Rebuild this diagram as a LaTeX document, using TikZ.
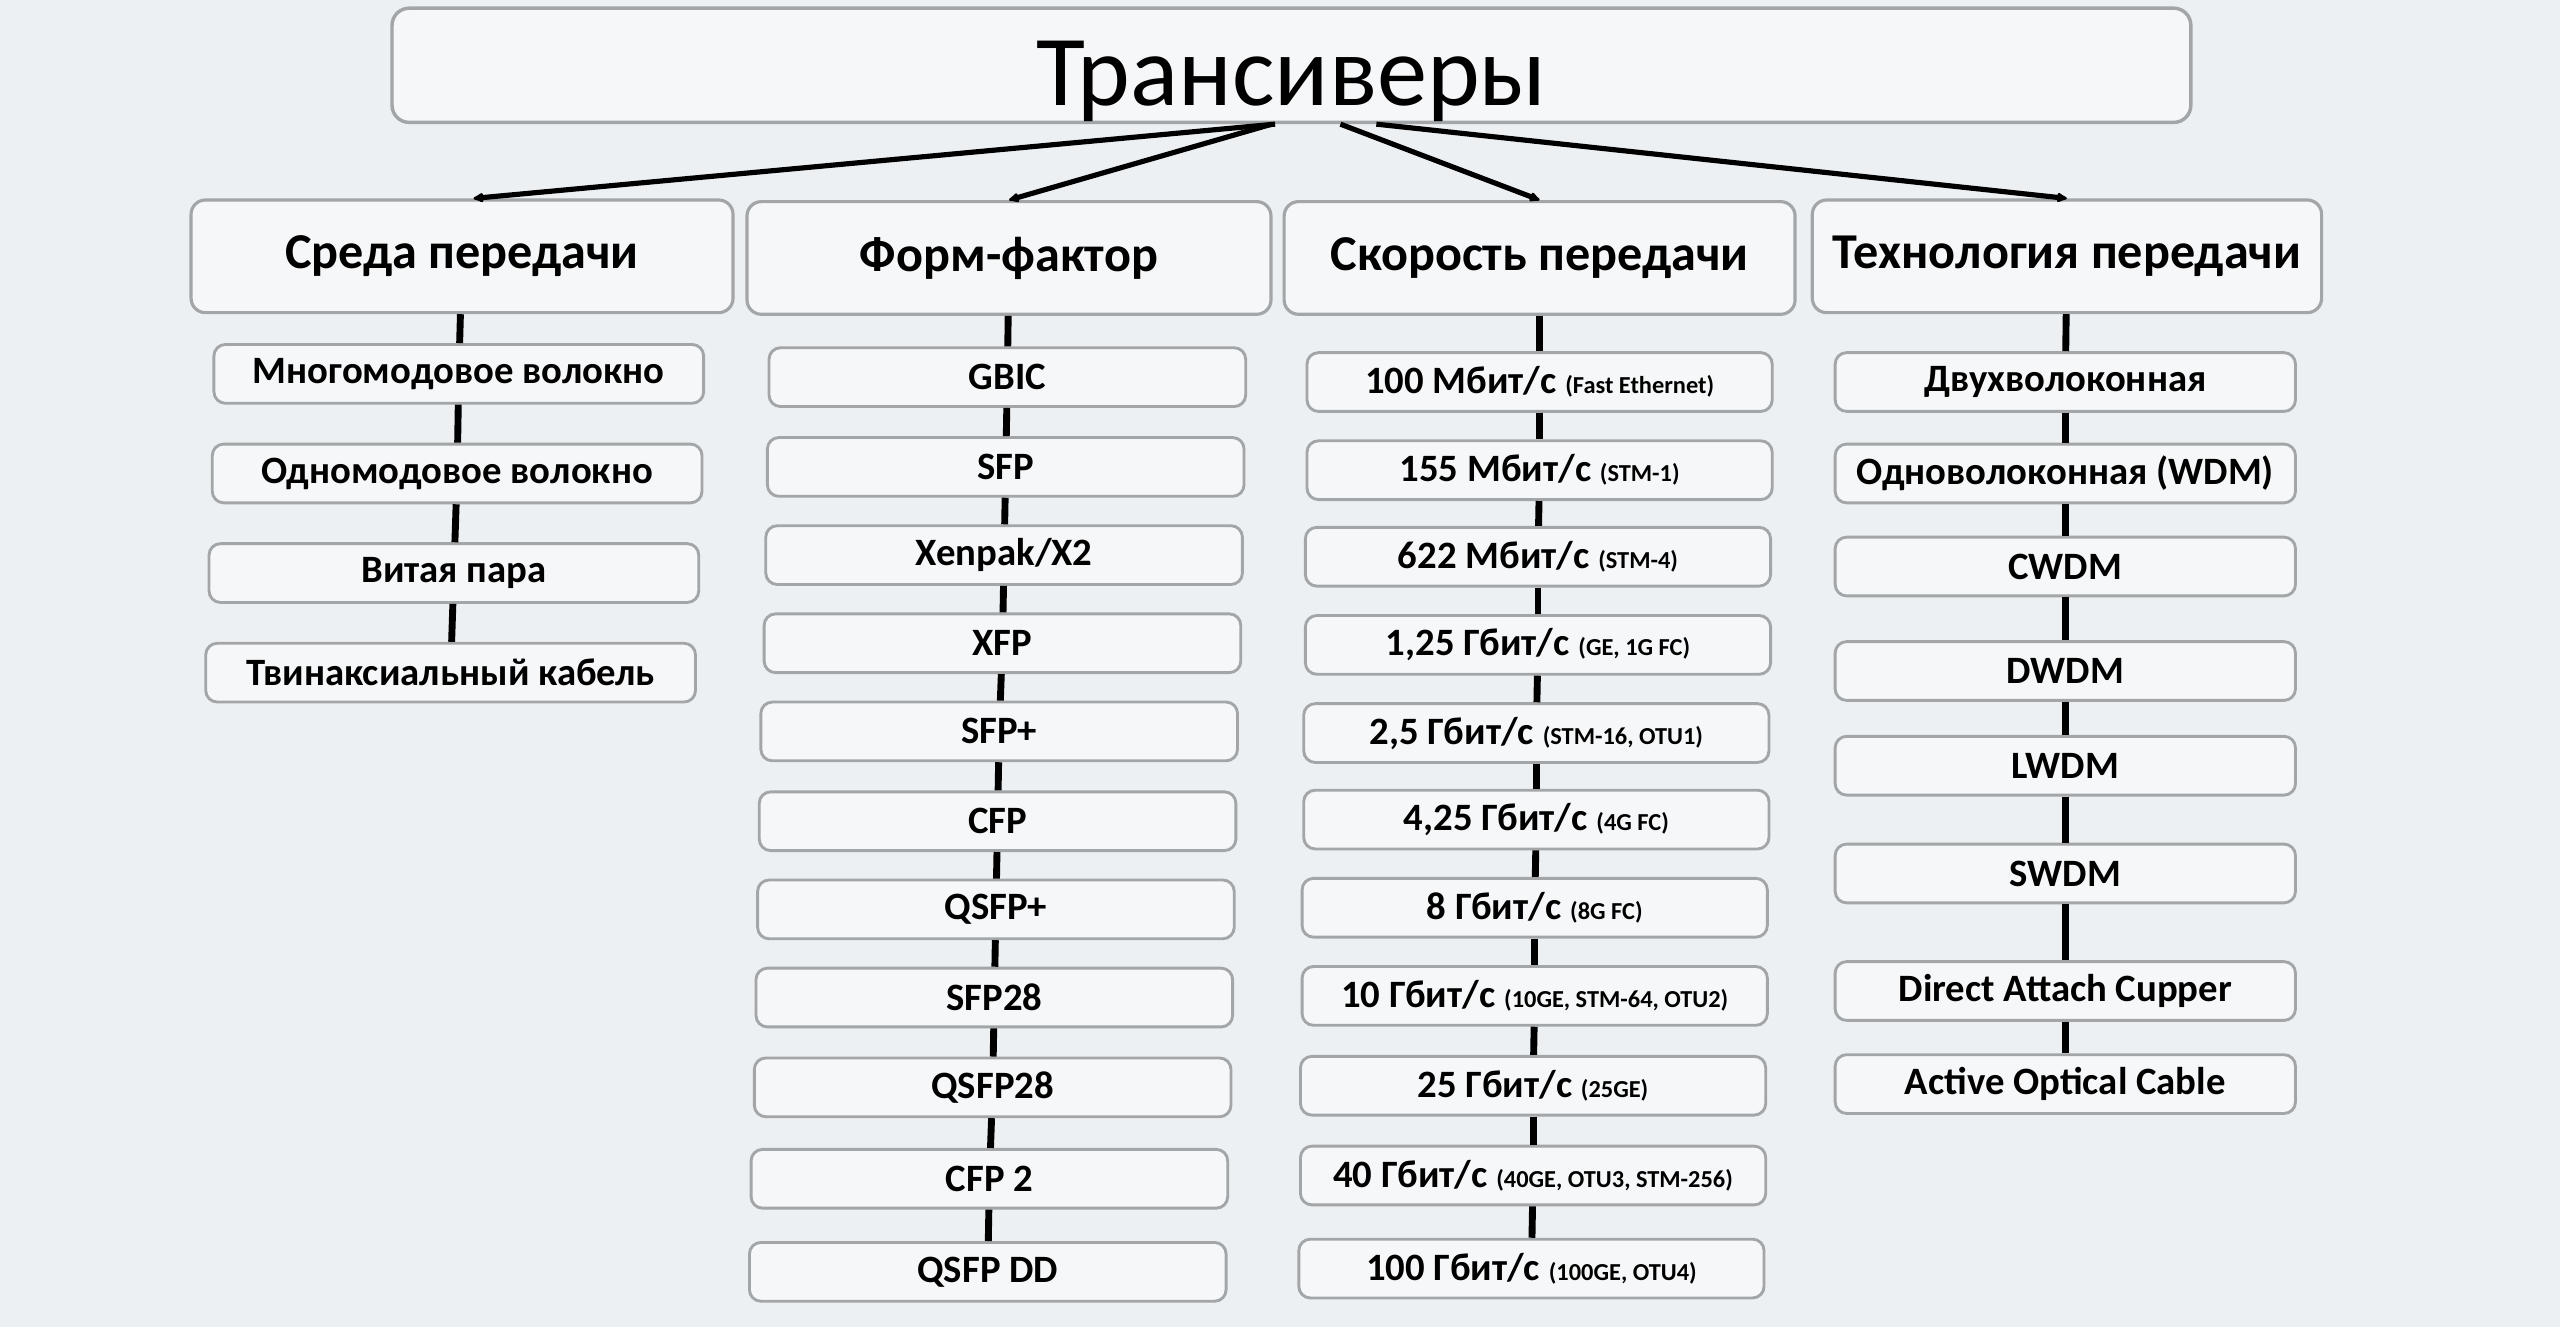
\documentclass[tikz,border=0pt]{standalone}
\usepackage{fontspec}
\setmainfont{Carlito}
\usetikzlibrary{arrows.meta,calc}
\definecolor{paper}{HTML}{EDF0F2}
\definecolor{boxfill}{HTML}{F6F7F8}
\definecolor{boxline}{HTML}{A3A6A8}
\newcommand\stdnote[1]{{\fontsize{8.5}{9}\selectfont #1}}

\begin{document}
\begin{tikzpicture}[x=0.02cm, y=-0.02cm,
  top/.style={draw=boxline, line width=1.2pt, rounded corners=6pt, fill=boxfill, minimum width=22.04cm, minimum height=1.4cm, inner ysep=0pt, text height=1.18cm, text depth=0.2cm, font=\fontsize{35}{40}\selectfont},
  cat/.style={draw=boxline, line width=1.1pt, rounded corners=5pt, fill=boxfill, minimum height=1.38cm, font=\bfseries\fontsize{17.5}{19}\selectfont},
  item/.style={draw=boxline, line width=1pt, rounded corners=4pt, fill=boxfill, minimum height=0.72cm, inner sep=1pt, font=\bfseries\fontsize{13.5}{15}\selectfont},
  link/.style={line width=2.4pt},
  feed/.style={-{Latex[length=4.5pt,width=4pt,round]}, line width=1.8pt}]
\fill[paper] (0,0) rectangle (1568,813);
\useasboundingbox (0,0) rectangle (1568,813);

\node[top] (root) at (791,40) {Трансиверы};

% categories
\node[cat, minimum width=6.64cm] (h1) at (283,157) {Среда передачи};
\node[cat, minimum width=6.42cm] (h2) at (618,158) {Форм-фактор};
\node[cat, minimum width=6.26cm] (h3) at (943,158) {Скорость передачи};
\node[cat, minimum width=6.24cm] (h4) at (1266,157) {Технология передачи};

\draw[feed] ($(root.south)+(-10,0)$) -- ($(h1.north)+(7,0)$);
\draw[feed] ($(root.south)+(-12,0)$) -- (h2.north);
\draw[feed] ($(root.south)+(30,0)$) -- (h3.north);
\draw[feed] ($(root.south)+(52,0)$) -- (h4.north);

% medium
\foreach \i/\x/\y/\t in {1/281/229/{Многомодовое волокно}, 2/280/290/{Одномодовое волокно},
  3/278/351/{Витая пара}, 4/276/412/{Твинаксиальный кабель}}
  \node[item, minimum width=6cm] (m\i) at (\x,\y) {\t};

% form factor
\foreach \i/\x/\y/\t in {1/617/231/GBIC, 2/616/286/SFP, 3/615/340/{Xenpak/X2}, 4/614/394/XFP,
  5/612/448/SFP+, 6/611/503/CFP, 7/610/557/QSFP+, 8/609/611/SFP28, 9/608/666/QSFP28,
  10/606/722/{CFP 2}, 11/605/779/{QSFP DD}}
  \node[item, minimum width=5.84cm] (f\i) at (\x,\y) {\t};

% speed
\foreach \i/\x/\y/\t in {1/943/234/{100 Мбит/с \stdnote{(Fast Ethernet)}},
  2/943/288/{155 Мбит/с \stdnote{(STM-1)}}, 3/942/341/{622 Мбит/с \stdnote{(STM-4)}},
  4/942/395/{1,25 Гбит/с \stdnote{(GE, 1G FC)}}, 5/941/449/{2,5 Гбит/с \stdnote{(STM-16, OTU1)}},
  6/941/502/{4,25 Гбит/с \stdnote{(4G FC)}}, 7/940/556/{8 Гбит/с \stdnote{(8G FC)}},
  8/940/610/{10 Гбит/с \stdnote{(10GE, STM-64, OTU2)}}, 9/939/665/{25 Гбит/с \stdnote{(25GE)}},
  10/939/720/{40 Гбит/с \stdnote{(40GE, OTU3, STM-256)}}, 11/938/777/{100 Гбит/с \stdnote{(100GE, OTU4)}}}
  \node[item, minimum width=5.7cm] (s\i) at (\x,\y) {\t};

% technology
\foreach \i/\y/\t in {1/234/Двухволоконная, 2/290/{Одноволоконная (WDM)}, 3/347/CWDM,
  4/411/DWDM, 5/469/LWDM, 6/535/SWDM, 7/607/{Direct Attach Cupper}, 8/664/{Active Optical Cable}}
  \node[item, minimum width=5.64cm] (t\i) at (1265,\y) {\t};

% chains
\draw[link] (h1) -- (m1);
\foreach \i [count=\j from 2] in {1,...,3} \draw[link] (m\i) -- (m\j);
\draw[link] (h2) -- (f1);
\foreach \i [count=\j from 2] in {1,...,10} \draw[link] (f\i) -- (f\j);
\draw[link] (h3) -- (s1);
\foreach \i [count=\j from 2] in {1,...,10} \draw[link] (s\i) -- (s\j);
\draw[link] (h4) -- (t1);
\foreach \i [count=\j from 2] in {1,...,7} \draw[link] (t\i) -- (t\j);
\end{tikzpicture}
\end{document}
